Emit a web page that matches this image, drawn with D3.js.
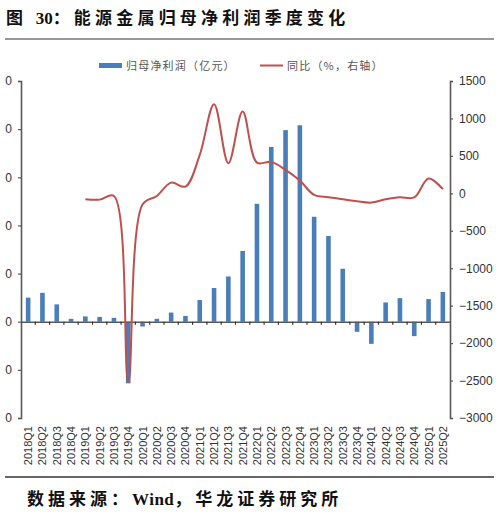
<!DOCTYPE html>
<html>
<head>
<meta charset="utf-8">
<script src="https://cdn.jsdelivr.net/npm/d3@7"></script>
<style>
  body { margin: 0; background: #fff; }
  svg { display: block; }
</style>
</head>
<body>
<svg width="499" height="517"></svg>
<script>
const quarters = ['2018Q1','2018Q2','2018Q3','2018Q4','2019Q1','2019Q2','2019Q3','2019Q4',
  '2020Q1','2020Q2','2020Q3','2020Q4','2021Q1','2021Q2','2021Q3','2021Q4',
  '2022Q1','2022Q2','2022Q3','2022Q4','2023Q1','2023Q2','2023Q3','2023Q4',
  '2024Q1','2024Q2','2024Q3','2024Q4','2025Q1','2025Q2'];
// 归母净利润（亿元）
const profit = [50, 60, 36, 6, 11, 10, 8, -128, -10, 6, 19, 12, 45, 70, 94, 147,
  245, 363, 398, 408, 218, 178, 110, -21, -46, 40, 49, -30, 47, 62];
// 同比（%，右轴）, 2019Q1 起
const yoy = [null, null, null, null, -79, -84, -35, -2520, -150, -35, 143, 90, 513, 1190, 402, 1092,
  410, 420, 313, 170, -21, -52, -79, -106, -124, -79, -52, -55, 197, 55];
const leftTicks = [-200, -100, 0, 100, 200, 300, 400, 500];
const rightTicks = [-3000, -2500, -2000, -1500, -1000, -500, 0, 500, 1000, 1500];

const svg = d3.select('svg');
const plotTop = 81, plotBottom = 418, plotLeft = 21, plotRight = 450;

const x = d3.scaleBand().domain(quarters).range([plotLeft, plotRight]);
const yL = d3.scaleLinear().domain([-200, 500]).range([plotBottom, plotTop]);
const yR = d3.scaleLinear().domain([-3000, 1500]).range([plotBottom, plotTop]);

// bold heading text: CJK parts spaced out, latin parts tight
function heading(xPos, yPos, parts) {
  const t = svg.append('text')
    .attr('x', xPos).attr('y', yPos)
    .attr('font-family', '"Liberation Serif", "Noto Sans CJK SC"')
    .attr('font-weight', 'bold').attr('font-size', 17).attr('fill', '#111');
  parts.forEach(p => t.append('tspan').attr('letter-spacing', p[1]).text(p[0]));
}

heading(6, 24, [['图 ', 4.2], ['30', 0], ['：能源金属归母净利润季度变化', 4.2]]);
svg.append('line').attr('x1', 5).attr('x2', 494).attr('y1', 39).attr('y2', 39)
  .attr('stroke', '#333').attr('stroke-width', 1.2);

// legend
const lg = svg.append('g').attr('font-family', '"Noto Sans CJK SC"').attr('font-size', 11)
  .attr('fill', '#555').attr('letter-spacing', 1.2);
lg.append('rect').attr('x', 99).attr('y', 63).attr('width', 23).attr('height', 5).attr('fill', '#4a7ebb');
lg.append('text').attr('x', 126).attr('y', 70).text('归母净利润（亿元）');
lg.append('line').attr('x1', 260).attr('x2', 283).attr('y1', 65.5).attr('y2', 65.5)
  .attr('stroke', '#c0504d').attr('stroke-width', 2);
lg.append('text').attr('x', 287).attr('y', 70).text('同比（%，右轴）');

// bars
svg.append('g').selectAll('rect')
  .data(profit)
  .join('rect')
  .attr('x', (d, i) => x(quarters[i]) + x.bandwidth() / 2 - 2.3)
  .attr('width', 4.6)
  .attr('y', d => yL(Math.max(0, d)))
  .attr('height', d => Math.abs(yL(d) - yL(0)))
  .attr('fill', '#4a7ebb');

// left axis (labels cut off at the page edge, only the last digit shows)
const axL = svg.append('g').attr('transform', `translate(${plotLeft},0)`)
  .call(d3.axisLeft(yL).tickValues(leftTicks).tickSize(3).tickFormat(d => String(d).slice(-1)));
// right axis
const axR = svg.append('g').attr('transform', `translate(${plotRight},0)`)
  .call(d3.axisRight(yR).tickValues(rightTicks).tickSize(3).tickFormat(d3.format('d')));
// category axis on zero line
const axX = svg.append('g').attr('transform', `translate(0,${yL(0)})`)
  .call(d3.axisBottom(x).tickSize(0).tickFormat(''));
axX.selectAll('.tick').remove();
axX.append('g').selectAll('line')
  .data(quarters.slice(1))
  .join('line')
  .attr('x1', d => x(d)).attr('x2', d => x(d))
  .attr('y1', 0).attr('y2', 3)
  .attr('stroke', '#333').attr('stroke-width', 1.2);

[axL, axR, axX].forEach(g => {
  g.select('.domain').attr('stroke', '#595959').attr('stroke-width', 1.6);
  g.selectAll('.tick line').attr('stroke', '#595959').attr('stroke-width', 1.2);
  g.selectAll('.tick text').attr('font-family', '"Liberation Sans", Arial')
    .attr('font-size', 12).attr('fill', '#333');
});
axL.selectAll('.tick text').attr('x', -9);
axR.selectAll('.tick text').attr('x', 9);

// rotated category labels at bottom
svg.append('g').selectAll('text')
  .data(quarters)
  .join('text')
  .attr('transform', d => `translate(${x(d) + x.bandwidth() / 2 + 4},426) rotate(-90)`)
  .attr('text-anchor', 'end')
  .attr('font-family', '"Liberation Sans", Arial')
  .attr('font-size', 11).attr('fill', '#333')
  .text(d => d);

// yoy line
const line = d3.line()
  .defined(d => d != null)
  .x((d, i) => x(quarters[i]) + x.bandwidth() / 2)
  .y(d => yR(d))
  .curve(d3.curveCatmullRom.alpha(0.5));
svg.append('path')
  .datum(yoy)
  .attr('d', line)
  .attr('fill', 'none')
  .attr('stroke', '#c0504d')
  .attr('stroke-width', 2);

// footer
svg.append('line').attr('x1', 5).attr('x2', 494).attr('y1', 477).attr('y2', 477)
  .attr('stroke', '#333').attr('stroke-width', 1.5);
heading(27, 505, [['数据来源：', 4], ['Wind', 0.5], ['，华龙证券研究所', 4]]);
</script>
</body>
</html>
